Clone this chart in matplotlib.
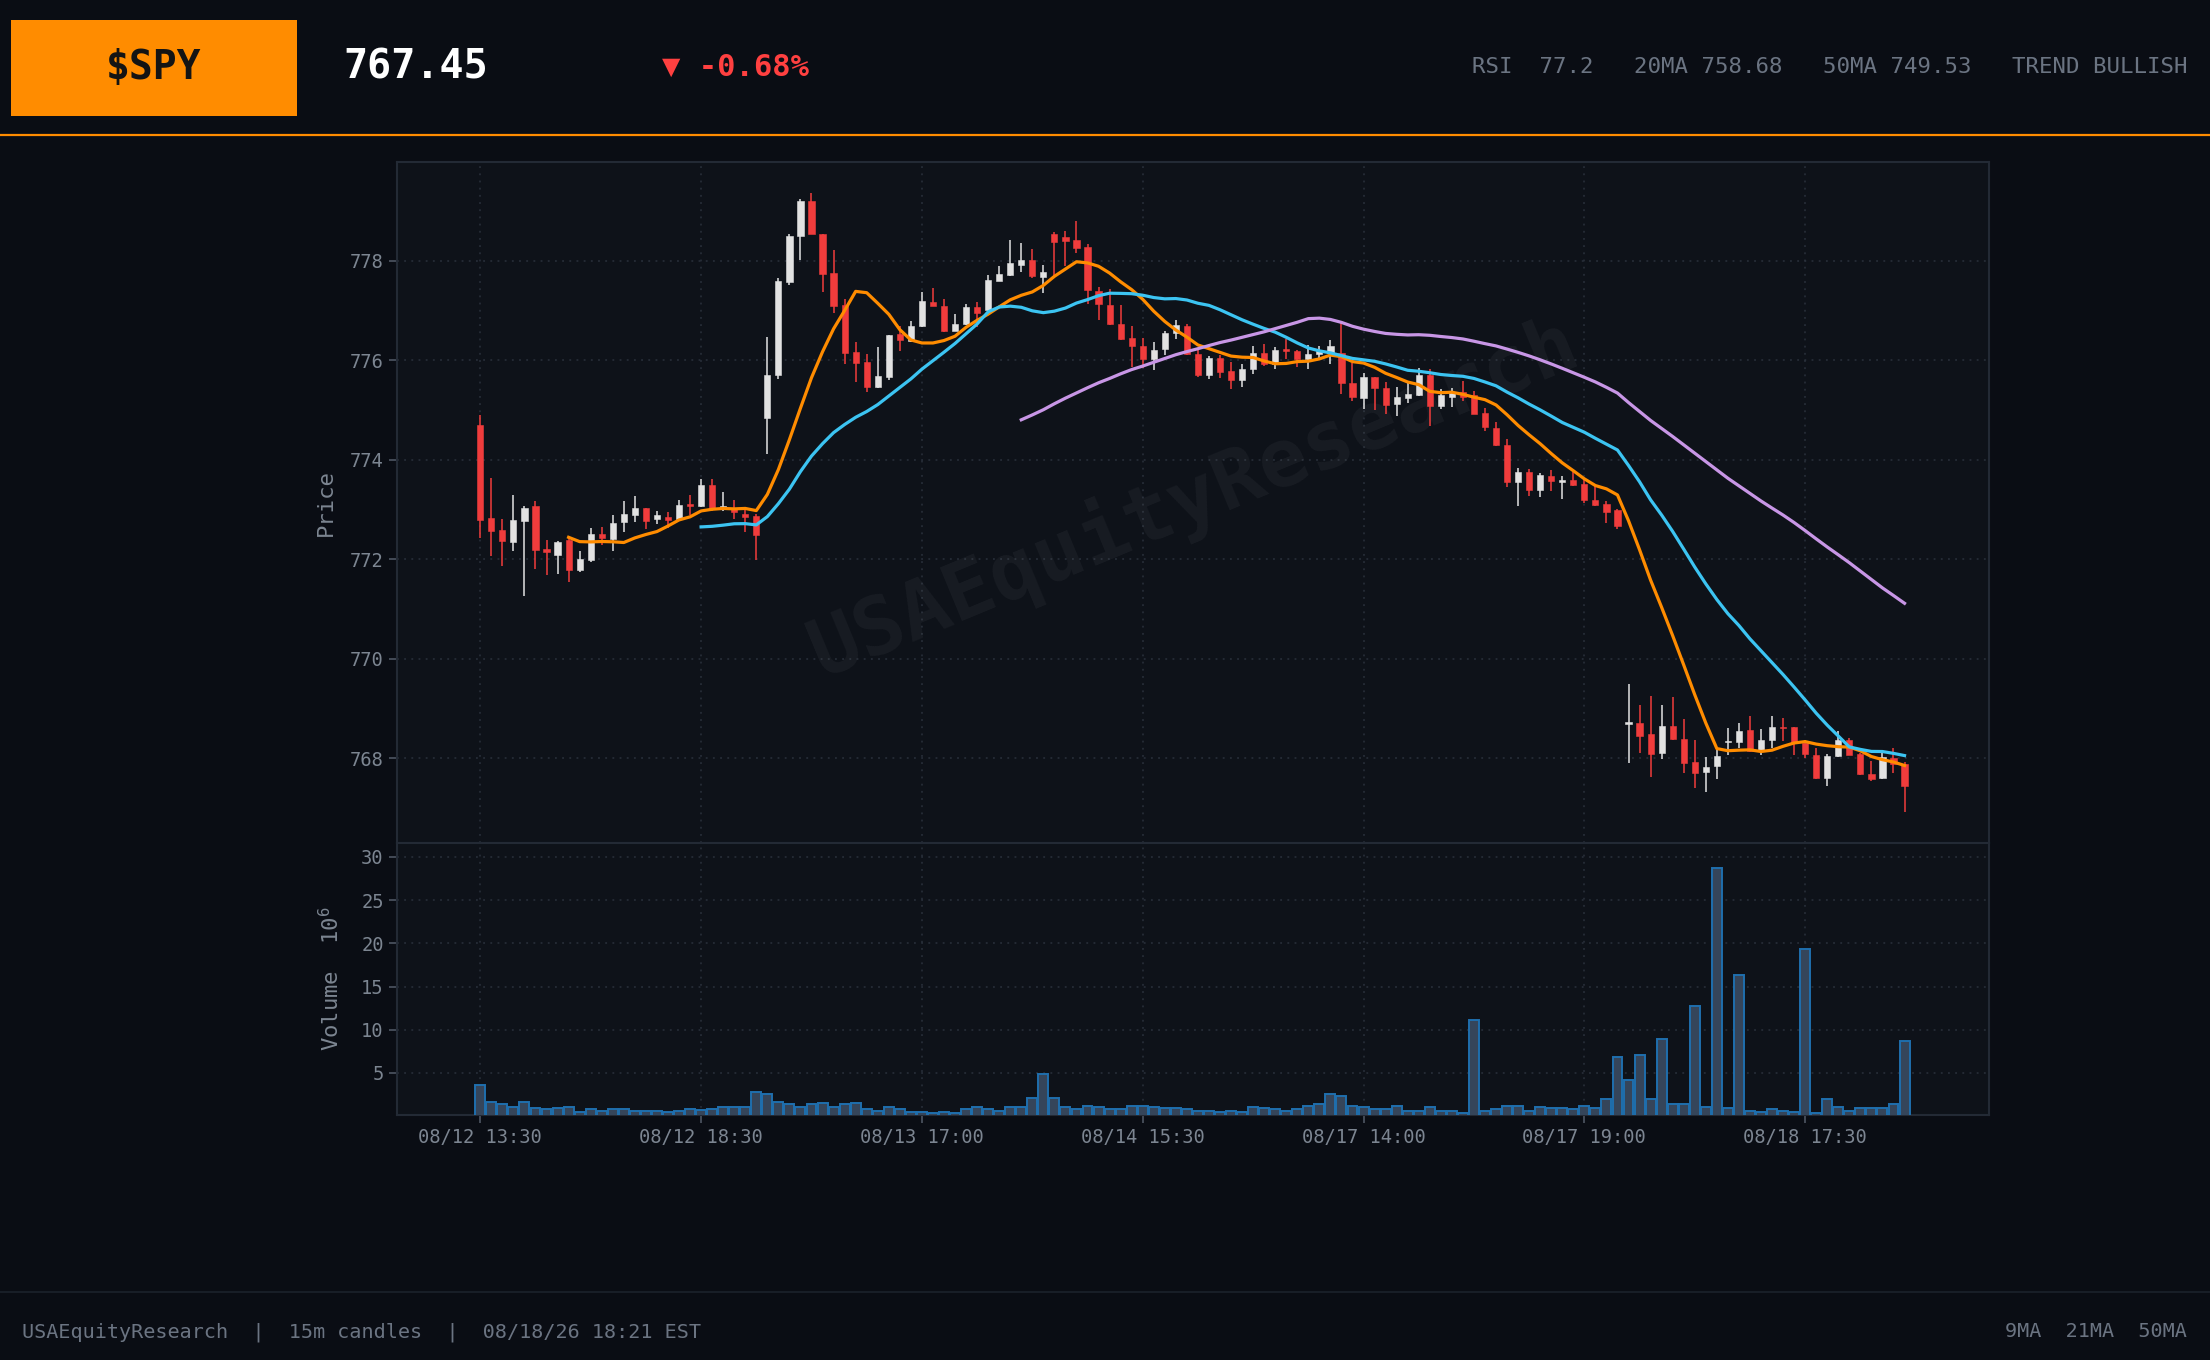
import numpy as np
import pandas as pd
import matplotlib
matplotlib.use("Agg")
import matplotlib.pyplot as plt
from matplotlib.patches import Rectangle
from matplotlib.lines import Line2D

plt.rcParams['font.family'] = ['DejaVu Sans Mono', 'DejaVu Sans']
plt.rcParams['mathtext.fontset'] = 'custom'
plt.rcParams['mathtext.rm'] = 'DejaVu Sans Mono'
plt.rcParams['mathtext.it'] = 'DejaVu Sans Mono'

# ---------------- data ----------------
opens = [774.69, 772.82, 772.58, 772.34, 772.76, 773.08, 772.21, 772.09, 772.39, 771.78,
         771.99, 772.51, 772.41, 772.74, 772.88, 773.02, 772.81, 772.85, 772.81, 773.10,
         773.07, 773.50, 773.03, 773.03, 772.90, 772.86, 774.84, 775.70, 777.58, 778.50,
         779.19, 778.54, 777.75, 777.11, 776.17, 775.97, 775.46, 775.66, 776.52, 776.39,
         776.69, 777.17, 777.09, 776.59, 776.72, 777.07, 777.00, 777.60, 777.71, 777.92,
         778.01, 777.68, 778.53, 778.47, 778.41, 778.27, 777.39, 777.11, 776.73, 776.45,
         776.29, 776.03, 776.22, 776.55, 776.69, 776.13, 775.70, 776.05, 775.79, 775.60,
         775.82, 776.15, 775.92, 776.21, 776.18, 776.02, 776.13, 776.15, 776.15, 775.55,
         775.24, 775.66, 775.44, 775.12, 775.24, 775.30, 775.70, 775.08, 775.27, 775.36,
         775.30, 774.94, 774.64, 774.29, 773.56, 773.75, 773.39, 773.68, 773.56, 773.60,
         773.52, 773.20, 773.12, 772.98, 768.69, 768.72, 768.48, 768.10, 768.64, 768.38,
         767.93, 767.72, 767.84, 768.32, 768.32, 768.56, 768.17, 768.36, 768.62, 768.62,
         768.30, 768.07, 767.60, 768.05, 768.36, 768.09, 767.69, 767.60, 768.01, 767.89]
highs = [774.89, 773.64, 772.81, 773.29, 773.07, 773.18, 772.39, 772.37, 772.46, 772.16,
         772.62, 772.65, 772.88, 773.17, 773.27, 773.03, 772.96, 772.94, 773.20, 773.29,
         773.62, 773.62, 773.35, 773.20, 773.01, 772.90, 776.46, 777.66, 778.54, 779.24,
         779.36, 778.54, 778.21, 777.23, 776.36, 776.12, 776.27, 776.51, 776.69, 776.78,
         777.36, 777.46, 777.23, 776.93, 777.13, 777.17, 777.72, 777.90, 778.41, 778.35,
         778.23, 777.92, 778.57, 778.59, 778.79, 778.33, 777.47, 777.42, 777.10, 776.68,
         776.44, 776.36, 776.59, 776.81, 776.73, 776.25, 776.09, 776.11, 775.97, 775.93,
         776.28, 776.32, 776.27, 776.43, 776.20, 776.30, 776.29, 776.40, 776.74, 775.94,
         775.75, 775.67, 775.57, 775.46, 775.54, 775.85, 775.82, 775.43, 775.44, 775.58,
         775.38, 775.03, 774.76, 774.42, 773.83, 773.82, 773.74, 773.79, 773.67, 773.76,
         773.61, 773.48, 773.17, 773.00, 769.50, 769.07, 769.25, 769.07, 769.23, 768.79,
         768.36, 768.02, 768.17, 768.60, 768.71, 768.85, 768.58, 768.85, 768.81, 768.63,
         768.36, 768.21, 768.09, 768.54, 768.41, 768.10, 767.94, 768.12, 768.20, 767.93]
lows = [772.43, 772.06, 771.86, 772.16, 771.27, 771.80, 771.68, 771.70, 771.54, 771.74,
        771.94, 772.29, 772.16, 772.55, 772.75, 772.60, 772.70, 772.63, 772.79, 772.88,
        773.05, 772.96, 772.96, 772.80, 772.55, 771.99, 774.11, 775.62, 777.51, 778.01,
        778.53, 777.36, 776.94, 775.92, 775.57, 775.37, 775.44, 775.60, 776.19, 776.37,
        776.67, 777.08, 776.57, 776.58, 776.71, 776.67, 776.99, 777.59, 777.70, 777.77,
        777.66, 777.35, 777.70, 777.89, 778.15, 777.13, 776.81, 776.71, 776.41, 775.87,
        775.85, 775.81, 776.10, 776.43, 776.11, 775.67, 775.63, 775.65, 775.42, 775.47,
        775.73, 775.89, 775.82, 776.03, 775.87, 775.82, 776.05, 775.92, 775.32, 775.17,
        775.01, 774.99, 774.91, 774.87, 775.13, 775.29, 774.68, 775.01, 775.05, 775.18,
        774.91, 774.58, 774.28, 773.46, 773.07, 773.28, 773.25, 773.38, 773.21, 773.48,
        773.13, 773.08, 772.72, 772.60, 767.91, 768.11, 767.62, 767.99, 768.36, 767.70,
        767.40, 767.32, 767.58, 768.07, 768.20, 768.12, 768.07, 768.20, 768.34, 768.07,
        768.01, 767.59, 767.44, 768.03, 768.06, 767.66, 767.54, 767.59, 767.70, 766.92]
closes = [772.78, 772.56, 772.36, 772.78, 773.03, 772.19, 772.14, 772.35, 771.78, 772.00,
          772.51, 772.43, 772.73, 772.90, 773.02, 772.76, 772.88, 772.78, 773.10, 773.07,
          773.50, 773.03, 773.05, 772.94, 772.84, 772.49, 775.70, 777.59, 778.49, 779.19,
          778.54, 777.74, 777.09, 776.15, 775.95, 775.46, 775.68, 776.50, 776.41, 776.68,
          777.19, 777.09, 776.59, 776.73, 777.07, 776.95, 777.61, 777.73, 777.95, 778.01,
          777.70, 777.77, 778.37, 778.40, 778.26, 777.40, 777.12, 776.72, 776.43, 776.28,
          776.03, 776.21, 776.55, 776.71, 776.12, 775.70, 776.05, 775.77, 775.60, 775.83,
          776.15, 775.92, 776.21, 776.18, 776.03, 776.13, 776.18, 776.29, 775.54, 775.26,
          775.66, 775.44, 775.10, 775.26, 775.32, 775.70, 775.08, 775.30, 775.35, 775.27,
          774.92, 774.66, 774.30, 773.55, 773.76, 773.39, 773.69, 773.57, 773.59, 773.50,
          773.19, 773.09, 772.95, 772.66, 768.73, 768.44, 768.08, 768.66, 768.38, 767.90,
          767.70, 767.83, 768.05, 768.34, 768.54, 768.14, 768.36, 768.62, 768.60, 768.30,
          768.08, 767.60, 768.05, 768.36, 768.07, 767.68, 767.59, 768.03, 767.88, 767.45]
volumes_m = [3.65, 1.69, 1.38, 1.11, 1.69, 0.92, 0.77, 0.92, 1.03, 0.53,
             0.88, 0.65, 0.80, 0.80, 0.65, 0.65, 0.65, 0.53, 0.65, 0.77,
             0.69, 0.80, 1.03, 1.03, 1.03, 2.84, 2.61, 1.69, 1.38, 1.11,
             1.38, 1.49, 1.11, 1.46, 1.57, 0.80, 0.65, 1.03, 0.80, 0.53,
             0.53, 0.42, 0.53, 0.42, 0.80, 1.03, 0.80, 0.65, 1.11, 1.11,
             2.15, 4.92, 2.15, 1.03, 0.80, 1.23, 1.03, 0.80, 0.80, 1.23,
             1.23, 1.03, 0.92, 0.92, 0.80, 0.65, 0.65, 0.53, 0.65, 0.53,
             1.03, 0.92, 0.80, 0.65, 0.80, 1.15, 1.38, 2.61, 2.30, 1.15,
             1.03, 0.80, 0.80, 1.15, 0.65, 0.65, 1.03, 0.65, 0.65, 0.42,
             11.16, 0.65, 0.80, 1.23, 1.15, 0.65, 1.03, 0.92, 0.92, 0.80,
             1.23, 0.92, 1.96, 6.81, 4.15, 7.12, 1.96, 8.89, 1.38, 1.38,
             12.70, 1.03, 28.73, 0.92, 16.37, 0.65, 0.53, 0.80, 0.65, 0.53,
             19.40, 0.42, 1.96, 1.03, 0.65, 0.92, 0.92, 0.92, 1.38, 8.66]
tick_positions = [0, 20, 40, 60, 80, 100, 120]
tick_labels = ['08/12 13:30', '08/12 18:30', '08/13 17:00', '08/14 15:30',
               '08/17 14:00', '08/17 19:00', '08/18 17:30']
ma_periods = [9, 21, 50]
ma_colors = ['#ff8c00', '#3cc4f2', '#c896e6']

ticker = r'\$SPY'
last_price = '767.45'
change_text = '\u25BC -0.68%'
stats_text = 'RSI  77.2   20MA 758.68   50MA 749.53   TREND BULLISH'
footer_left = 'USAEquityResearch  |  15m candles  |  08/18/26 18:21 EST'
footer_right = '9MA  21MA  50MA'
watermark = 'USAEquityResearch'

# ---------------- styling ----------------
BG = '#0a0d14'
AX_BG = '#0e1219'
GRID = '#2a313c'
SPINE = '#232a35'
TXT = '#7c8591'
UP = '#e2e2e2'
DOWN = '#f03c3c'

df = pd.DataFrame({'Open': opens, 'High': highs, 'Low': lows, 'Close': closes,
                   'Volume': volumes_m})
x = np.arange(len(df))

fig = plt.figure(figsize=(22.1, 13.6), dpi=100, facecolor=BG)
ax = fig.add_axes([0.1796, 0.3801, 0.7204, 0.5008], facecolor=AX_BG)
axv = fig.add_axes([0.1796, 0.1801, 0.7204, 0.2000], facecolor=AX_BG, sharex=ax)

# candles
up = df['Close'] >= df['Open']
colors = np.where(up, UP, DOWN)
body_bottom = np.minimum(df['Open'], df['Close'])
body_h = np.maximum(np.abs(df['Close'] - df['Open']), 0.035)
ax.vlines(x, df['Low'], df['High'], colors=colors, linewidth=1.1, zorder=3)
ax.bar(x, body_h, bottom=body_bottom, width=0.56, color=colors,
       edgecolor=colors, linewidth=0.4, zorder=4)

# moving averages
for p, c in zip(ma_periods, ma_colors):
    ma = df['Close'].rolling(p).mean()
    ax.plot(x, ma, color=c, linewidth=2.3, zorder=5)

rng = df['High'].max() - df['Low'].min()
ax.set_ylim(df['Low'].min() - 0.05 * rng, df['High'].max() + 0.05 * rng)
ax.set_xlim(-7.55, len(df) - 1 + 7.65)
ax.set_yticks([768, 770, 772, 774, 776, 778])

# watermark
ax.text(0.501, 0.508, watermark, transform=ax.transAxes, fontsize=58,
        fontweight='bold', color='#ffffff', alpha=0.045, rotation=22.5,
        ha='center', va='center', zorder=1)

# volume
axv.bar(x, df['Volume'], width=0.9, color='#35455a', edgecolor='#1f6fae',
        linewidth=1.4, zorder=3)
axv.set_ylim(0.3 * df['Volume'].min(), 1.1 * df['Volume'].max())
axv.set_yticks([5, 10, 15, 20, 25, 30])

for a in (ax, axv):
    a.grid(True, linestyle=(0, (1.2, 3.5)), color=GRID, linewidth=1.1, zorder=0)
    a.set_axisbelow(True)
    for s in a.spines.values():
        s.set_color(SPINE)
        s.set_linewidth(1.5)
    a.tick_params(axis='both', colors='#4e5663', labelcolor=TXT, labelsize=13.5,
                  length=6, width=1.2)

axv.set_xticks(tick_positions)
axv.set_xticklabels(tick_labels)
ax.tick_params(axis='x', which='both', bottom=False, labelbottom=False)

ax.set_ylabel('Price', color=TXT, fontsize=16)
ax.yaxis.set_label_coords(-0.0383, 0.5)
axv.set_ylabel('Volume  $10^{6}$', color=TXT, fontsize=16)
axv.yaxis.set_label_coords(-0.0339, 0.5)

# header
fig.patches.append(Rectangle((0.005, 0.9147), 0.1294, 0.0706,
                             transform=fig.transFigure, facecolor='#ff8c00',
                             edgecolor='none', zorder=1))
fig.text(0.0697, 0.9505, ticker, fontsize=28.5, fontweight='bold', color='#141414',
         ha='center', va='center', zorder=2)
fig.text(0.1553, 0.9505, last_price, fontsize=28.8, fontweight='bold',
         color='#ffffff', ha='left', va='center')
fig.text(0.2995, 0.9505, change_text, fontsize=22, fontweight='bold',
         color='#ff4040', ha='left', va='center',
         family=['DejaVu Sans Mono', 'DejaVu Sans'])
fig.text(0.9896, 0.9505, stats_text, fontsize=16.1, color='#6b7482',
         ha='right', va='center')
fig.lines.append(Line2D([0, 1], [0.9011, 0.9011], transform=fig.transFigure,
                        color='#ff8c00', linewidth=1.6))

# footer
fig.lines.append(Line2D([0, 1], [0.0500, 0.0500], transform=fig.transFigure,
                        color='#1c222b', linewidth=1.2))
fig.text(0.0100, 0.0206, footer_left, fontsize=14.5, color='#6b7482',
         ha='left', va='center')
fig.text(0.9896, 0.0206, footer_right, fontsize=14.5, color='#6b7482',
         ha='right', va='center')

fig.savefig('out.png', dpi=100, facecolor=BG)
